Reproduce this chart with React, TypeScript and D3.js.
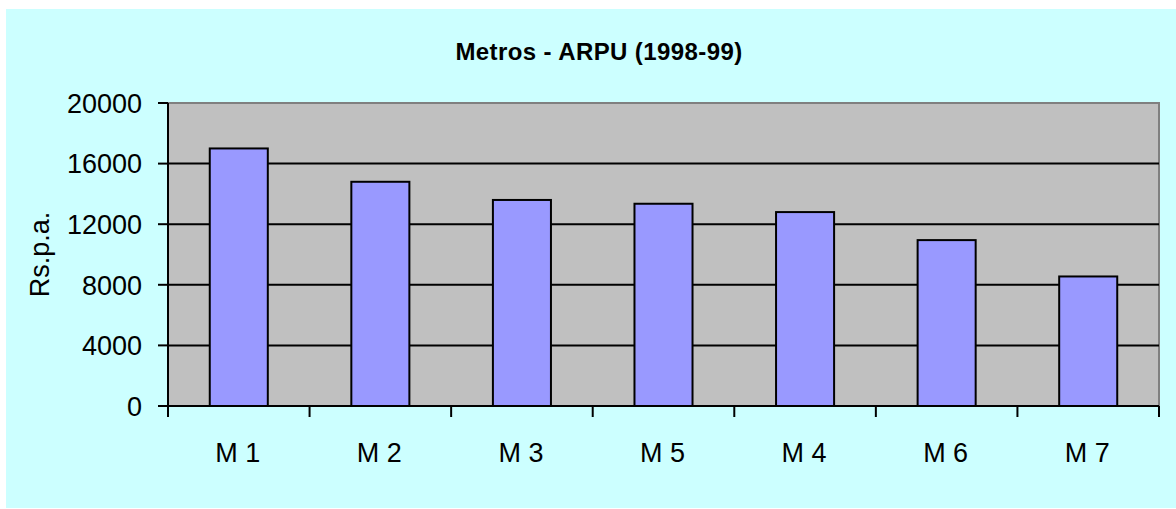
import React from "react";
import * as d3 from "d3";

const categories = ["M 1", "M 2", "M 3", "M 5", "M 4", "M 6", "M 7"];
const arpu = [17000, 14800, 13600, 13350, 12800, 10950, 8550];
const yTicks = [0, 4000, 8000, 12000, 16000, 20000];
const title = "Metros - ARPU (1998-99)";
const yLabel = "Rs.p.a.";

const W = 1176;
const H = 509;
const plot = { left: 168, top: 103, right: 1159, bottom: 406 };

export default function App() {
  const x = d3
    .scaleBand<string>()
    .domain(categories)
    .range([plot.left, plot.right])
    .paddingInner(0.59)
    .paddingOuter(0.295);
  const y = d3.scaleLinear().domain([0, 20000]).range([plot.bottom, plot.top]);
  const step = (plot.right - plot.left) / categories.length;
  const font = "'Liberation Sans', Arial, sans-serif";

  return (
    <svg
      width={W}
      height={H}
      style={{ position: "absolute", left: 0, top: 0, background: "#fff" }}
    >
      <rect x={6} y={9} width={W - 6} height={499} fill="#CCFFFF" />
      <text
        x={599}
        y={60}
        textAnchor="middle"
        fontFamily={font}
        fontWeight="bold"
        fontSize={24}
        letterSpacing={0.4}
        fill="#000"
      >
        {title}
      </text>
      <rect
        x={plot.left}
        y={plot.top}
        width={plot.right - plot.left}
        height={plot.bottom - plot.top}
        fill="#C0C0C0"
        stroke="#808080"
        strokeWidth={2}
      />
      {yTicks
        .filter((t) => t > 0 && t < 20000)
        .map((t) => (
          <line
            key={"g" + t}
            x1={plot.left}
            x2={plot.right}
            y1={y(t)}
            y2={y(t)}
            stroke="#000"
            strokeWidth={2}
          />
        ))}
      {categories.map((c, i) => (
        <rect
          key={c}
          x={x(c)}
          y={y(arpu[i])}
          width={x.bandwidth()}
          height={plot.bottom - y(arpu[i])}
          fill="#9999FF"
          stroke="#000"
          strokeWidth={2}
        />
      ))}
      {/* y axis */}
      <line x1={plot.left} x2={plot.left} y1={plot.top} y2={plot.bottom} stroke="#000" strokeWidth={2} />
      {yTicks.map((t) => (
        <g key={"t" + t}>
          <line x1={plot.left - 10} x2={plot.left} y1={y(t)} y2={y(t)} stroke="#000" strokeWidth={2} />
          <text
            x={142}
            y={y(t)}
            dy="0.36em"
            textAnchor="end"
            fontFamily={font}
            fontSize={27}
            fill="#000"
          >
            {t}
          </text>
        </g>
      ))}
      {/* x axis */}
      <line x1={plot.left} x2={plot.right} y1={plot.bottom} y2={plot.bottom} stroke="#000" strokeWidth={2} />
      {d3.range(categories.length + 1).map((i) => (
        <line
          key={"xt" + i}
          x1={plot.left + i * step}
          x2={plot.left + i * step}
          y1={plot.bottom}
          y2={plot.bottom + 11}
          stroke="#000"
          strokeWidth={2}
        />
      ))}
      {categories.map((c) => (
        <text
          key={"xl" + c}
          x={(x(c) as number) + x.bandwidth() / 2 - 1}
          y={462}
          textAnchor="middle"
          fontFamily={font}
          fontSize={27}
          fill="#000"
        >
          {c}
        </text>
      ))}
      <text
        transform={`translate(49, ${(plot.top + plot.bottom) / 2}) rotate(-90)`}
        textAnchor="middle"
        fontFamily={font}
        fontSize={27}
        fill="#000"
      >
        {yLabel}
      </text>
    </svg>
  );
}
